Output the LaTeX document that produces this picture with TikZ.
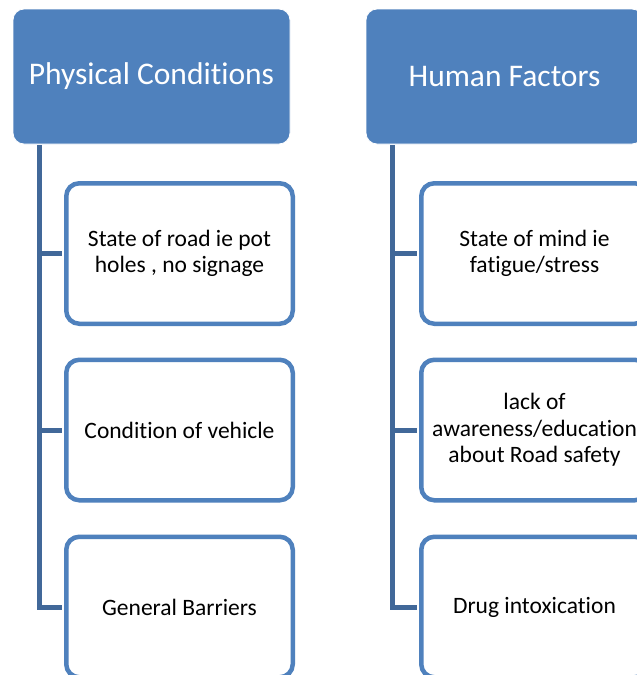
\documentclass[tikz,border=0pt]{standalone}
\usepackage{fontspec}
\setmainfont{Carlito}[Ligatures=NoCommon]
\definecolor{hdrblue}{RGB}{79,129,189}
\definecolor{spineblue}{RGB}{65,104,153}
\begin{document}
\begin{tikzpicture}[x=1pt,y=-1pt,
  header/.style={rectangle, rounded corners=11pt, fill=hdrblue, draw=white, line width=0.8pt,
    minimum width=277pt, minimum height=135pt, inner sep=0pt, text=white,
    font=\fontsize{31.5}{37}\selectfont},
  child/.style={rectangle, rounded corners=13pt, fill=white, draw=hdrblue, line width=4.5pt,
    minimum width=226.5pt, minimum height=140.5pt, inner sep=0pt, align=center,
    font=\fontsize{23.5}{26.5}\selectfont},
  spine/.style={draw=spineblue, line width=5pt, shorten >=2.25pt}]
\useasboundingbox (0,0) rectangle (637,675);
\clip (0,0) rectangle (637,675);
\fill[white] (0,0) rectangle (637,675);
% headers
\node[header] (hl) at (151.5,76.5) {Physical Conditions};
\node[header] (hr) at (504.5,76.5) {Human Factors};
% spine anchors
\coordinate (sl) at (39,145);
\coordinate (sr) at (392,145);
% left children
\node[child] (l1) at (179.5,253.5) {State of road ie pot\\holes , no signage};
\node[child] (l2) at (179.5,430) {Condition of vehicle};
\node[child] (l3) at (179.5,607) {General Barriers};
% right children
\node[child] (r1) at (534.5,253.5) {State of mind ie\\fatigue/stress};
\node[child] (r2) at (534.5,430) {lack of\\awareness/education\\about Road safety};
\node[child] (r3) at (534.5,607) {Drug intoxication};
% connectors
\draw[spine] (sl) |- (l1.west);
\draw[spine] (sl) |- (l2.west);
\draw[spine] (sl) |- (l3.west);
\draw[spine] (sr) |- (r1.west);
\draw[spine] (sr) |- (r2.west);
\draw[spine] (sr) |- (r3.west);
\end{tikzpicture}
\end{document}
